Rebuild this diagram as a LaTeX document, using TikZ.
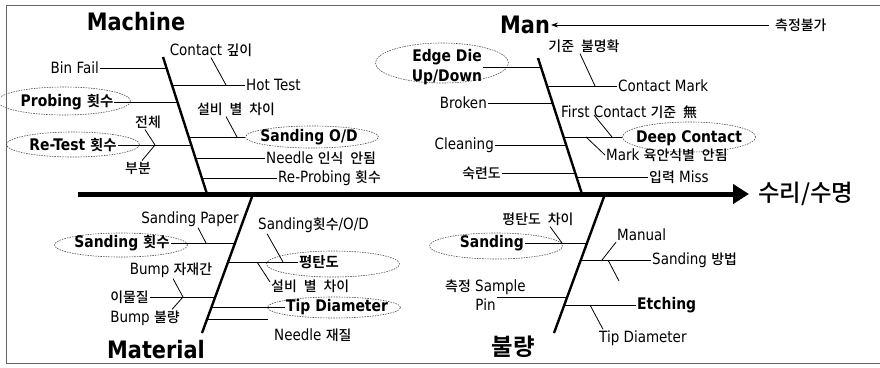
\documentclass[tikz,border=0pt]{standalone}
\usepackage{fontspec}
\setmainfont{DejaVu Sans}[FakeStretch=0.87]
\newfontfamily\krfont{Noto Sans CJK KR}[Scale=0.9, WordSpace=2.2, UprightFont={Noto Sans CJK KR Medium}, BoldFont={Noto Sans CJK KR Bold}]
\newcommand\hk[1]{{\krfont #1}}
\usetikzlibrary{arrows.meta,shapes.geometric,calc}

\tikzset{
  lbl/.style={font=\fontsize{15.5}{18}\selectfont, inner sep=1pt},
  blbl/.style={font=\fontsize{16}{20}\selectfont\bfseries, inner sep=1pt},
  cat/.style={font=\fontsize{24}{28}\selectfont\bfseries, inner sep=0pt},
  ell/.style={ellipse, draw=black!70, dash pattern=on 1.5pt off 1.1pt,
              line width=0.6pt, minimum width=133pt, inner sep=0pt},
  bone/.style={line width=2.4pt},
  twig/.style={line width=0.8pt},
}

\begin{document}
\begin{tikzpicture}[x=1pt,y=-1pt]
\useasboundingbox (0,0) rectangle (880,367);

% outer frame
\draw[black!60, line width=0.8pt] (890,5) -- (6,5) -- (6,363) -- (890,363);

% ---- main spine and effect ----
\coordinate (tail) at (78,194);
\node[font=\fontsize{26}{30}\krfont, anchor=west, inner sep=0pt] (effect) at (758,194) {수리/수명};
\draw[line width=5pt, -{Triangle[length=16pt,width=19pt]}, shorten >=9pt] (tail) -- (effect.west);

% ---- category bones ----
\coordinate (mcT) at (163,57);  \coordinate (mcB) at (207,194);
\coordinate (mnT) at (538,58);  \coordinate (mnB) at (582,194);
\coordinate (mtT) at (253,194); \coordinate (mtB) at (202,333);
\coordinate (dfT) at (605,194); \coordinate (dfB) at (554,333);
\draw[bone] (mcT) -- (mcB);
\draw[bone] (mnT) -- (mnB);
\draw[bone] (mtT) -- (mtB);
\draw[bone] (dfT) -- (dfB);

\node[cat] (machine) at (136,22) {Machine};
\node[cat] (man) at (525,25) {Man};
\node[cat] (material) at (156,350) {Material};
\node[cat, font=\fontsize{26}{30}\krfont\bfseries] (defect) at (513,347) {불량};

% measurement note pointing at Man
\node[lbl, anchor=west] (measure) at (774,25) {\hk{측정불가}};
\draw[twig, -{Stealth[length=7pt,width=5pt]}, shorten <=5pt, shorten >=1pt] (measure.west) -- (measure.west -| man.east);

% ---- Machine ----
\node[lbl] (cdepth) at (211,50) {Contact \hk{깊이}};
\node[lbl, anchor=east] (binfail) at (100,68) {Bin Fail};
\node[lbl, anchor=west] (hottest) at (245,85) {Hot Test};
\node[ell, minimum height=28pt] (probingE) at (64,101) {};
\node[blbl] (probing) at (67,102) {Probing \hk{횟수}};
\node[lbl] (equipA) at (236,109) {\hk{설비 별 차이}};
\node[ell, minimum height=22pt] (sodE) at (312,137) {};
\node[blbl] (sod) at (309,137) {Sanding O/D};
\node[ell, minimum height=25pt] (retestE) at (73,144.5) {};
\node[blbl] (retest) at (73,145) {Re-Test \hk{횟수}};
\node[lbl] (whole) at (148,122) {\hk{전체}};
\node[lbl] (part) at (138,168) {\hk{부분}};
\node[lbl, anchor=west] (needle) at (265,158) {Needle \hk{인식 안됨}};
\node[lbl, anchor=west] (reprob) at (277,178) {Re-Probing \hk{횟수}};

\coordinate (jBin) at (166.5,68);
\coordinate (jHot) at (172,85);
\coordinate (jProb) at (177.5,102);
\coordinate (jSod) at (188.7,137);
\coordinate (jRet) at (191.3,145);
\coordinate (jNeedle) at (195.4,158);
\coordinate (jRep) at (201.9,178);
\draw[twig] (binfail.east) -- (jBin);
\draw[twig] (jHot) -- (hottest.west);
\draw[twig] (probing.east) -- (jProb);
\draw[twig] (jSod) -- (sodE.west);
\draw[twig] (retest.east) -- (jRet);
\draw[twig] (jNeedle) -- (needle.west);
\draw[twig] (jRep) -- (reprob.west);

\coordinate (kHot) at (226,85);
\draw[twig] (cdepth.south) -- (kHot);
\coordinate (kSod) at (237,137);
\draw[twig] ([xshift=-10pt]equipA.south) -- (kSod);
\coordinate (kRet) at (155,145);
\draw[twig] ([xshift=-3pt]whole.south) -- (kRet) -- ([xshift=4pt]part.north);

% ---- Man ----
\node[ell, minimum height=40pt] (edgeE) at (442,63) {};
\node[blbl, align=center] (edge) at (447,67) {Edge Die\\Up/Down};
\coordinate (jEdge) at (541,67);
\draw[twig] (edge.east) -- (jEdge);

\node[lbl] (std) at (584,46) {\hk{기준 불명확}};
\node[lbl, anchor=west] (cmark) at (617,86) {Contact Mark};
\coordinate (jCm) at (547.1,86);
\draw[twig] (jCm) -- (cmark.west);
\coordinate (kCm) at (595,86);
\draw[twig] ([xshift=-4pt]std.south) -- (kCm);

\node[lbl, anchor=east] (broken) at (488,103) {Broken};
\coordinate (jBroken) at (552.6,103);
\draw[twig] (broken.east) -- (jBroken);

\node[lbl, anchor=west] (first) at (560,112) {First Contact \hk{기준 無}};
\node[ell, minimum height=30pt] (deepE) at (689,137) {};
\node[blbl] (deep) at (689,138) {Deep Contact};
\coordinate (jDeep) at (563.6,137);
\draw[twig] (jDeep) -- (deepE.west);
\coordinate (kFirst) at (612,137);
\draw[twig] ($(first.west)+(34,3)$) -- (kFirst);
\node[lbl, anchor=west] (mark) at (605,155) {Mark \hk{육안식별 안됨}};
\coordinate (kMark) at (586,137);
\draw[twig] (kMark) -- (mark.west);

\node[lbl, anchor=east] (cleaning) at (495,145) {Cleaning};
\coordinate (jClean) at (566.1,145);
\draw[twig] (cleaning.east) -- (jClean);
\node[lbl, anchor=east] (skill) at (502,173) {\hk{숙련도}};
\coordinate (jSkill) at (575.2,173);
\draw[twig] (skill.east) -- (jSkill);
\node[lbl, anchor=west] (input) at (648,177) {\hk{입력} Miss};
\coordinate (jInput) at (576.5,177);
\draw[twig] (jInput) -- (input.west);

% ---- Material ----
\node[lbl] (spaper) at (190,219) {Sanding Paper};
\node[ell, minimum height=24pt] (scountE) at (121,245) {};
\node[blbl] (scount) at (122,243) {Sanding \hk{횟수}};
\coordinate (jScount) at (235,243);
\draw[twig] (scount.east) -- (jScount);
\coordinate (kScount) at (206,243);
\draw[twig] ([xshift=8pt]spaper.south) -- (kScount);

\node[lbl] (bumpA) at (171,270) {Bump \hk{자재간}};
\node[lbl, anchor=east] (foreign) at (150,297) {\hk{이물질}};
\node[lbl] (bumpB) at (145,318) {Bump \hk{불량}};
\coordinate (jForeign) at (215.2,297);
\draw[twig] (foreign.east) -- (jForeign);
\coordinate (kForeign) at (183,297);
\draw[twig] ([xshift=2pt]bumpA.south) -- (kForeign) -- ([xshift=27pt]bumpB.north);

\node[lbl, anchor=west] (sodcount) at (257,225) {Sanding\hk{횟수}/O/D};
\node[ell, minimum height=26pt] (flatE) at (333,264) {};
\node[blbl, anchor=west] (flat) at (298,262) {\hk{평탄도}};
\coordinate (jFlat) at (228.1,262);
\draw[twig] (jFlat) -- (flat.west);
\coordinate (kFlatA) at (283,262);
\draw[twig] ([xshift=10pt]sodcount.south west) -- (kFlatA);
\node[lbl, anchor=west] (equipB) at (270,286) {\hk{설비 별 차이}};
\coordinate (kFlatB) at (257,262);
\draw[twig] (kFlatB) -- ([yshift=4pt]equipB.west);

\node[ell, minimum height=21pt] (tipE) at (334,307.5) {};
\node[blbl, anchor=west] (tip) at (285,307) {Tip Diameter};
\coordinate (jTip) at (211.5,307);
\draw[twig] (jTip) -- (tip.west);

\node[lbl, anchor=west] (needleB) at (273,335) {Needle \hk{재질}};
\coordinate (jNeedleB) at (207.1,319);
\coordinate (needleTwig) at (268,319);
\draw[twig] (jNeedleB) -- (needleTwig);

% ---- Defect (불량) ----
\node[lbl] (flatdiff) at (538,219) {\hk{평탄도 차이}};
\node[ell, minimum height=26pt] (sandE) at (496,246) {};
\node[blbl, anchor=east] (sand) at (525,243) {Sanding};
\coordinate (jSand) at (587,243);
\draw[twig] (sand.east) -- (jSand);
\coordinate (kSand) at (562,243);
\draw[twig] ([xshift=12pt]flatdiff.south) -- (kSand);

\node[lbl, anchor=west] (manual) at (616,235) {Manual};
\node[lbl, anchor=west] (method) at (651,260) {Sanding \hk{방법}};
\coordinate (jMethod) at (580.8,260);
\draw[twig] (jMethod) -- (method.west);
\coordinate (kManual) at (602,260);
\draw[twig] (manual.south west) -- (kManual);
\coordinate (kLower) at (608,260);
\coordinate (lowerEnd) at (619,281);
\draw[twig] (kLower) -- (lowerEnd);

\node[lbl, align=center, font=\fontsize{15.5}{19}\selectfont] (sample) at (485.5,295.5) {\hk{측정} Sample\\Pin};
\coordinate (pinEnd) at (497,297);
\coordinate (jSample) at (567.2,297);
\draw[twig] (pinEnd) -- (jSample);

\node[blbl, anchor=west] (etching) at (636,305) {Etching};
\coordinate (jEtch) at (564.3,305);
\draw[twig] (jEtch) -- (etching.west);
\node[lbl, anchor=west] (tipB) at (598,338) {Tip Diameter};
\coordinate (kEtch) at (590,305);
\draw[twig] (kEtch) -- ([xshift=5pt]tipB.north west);
\end{tikzpicture}
\end{document}
